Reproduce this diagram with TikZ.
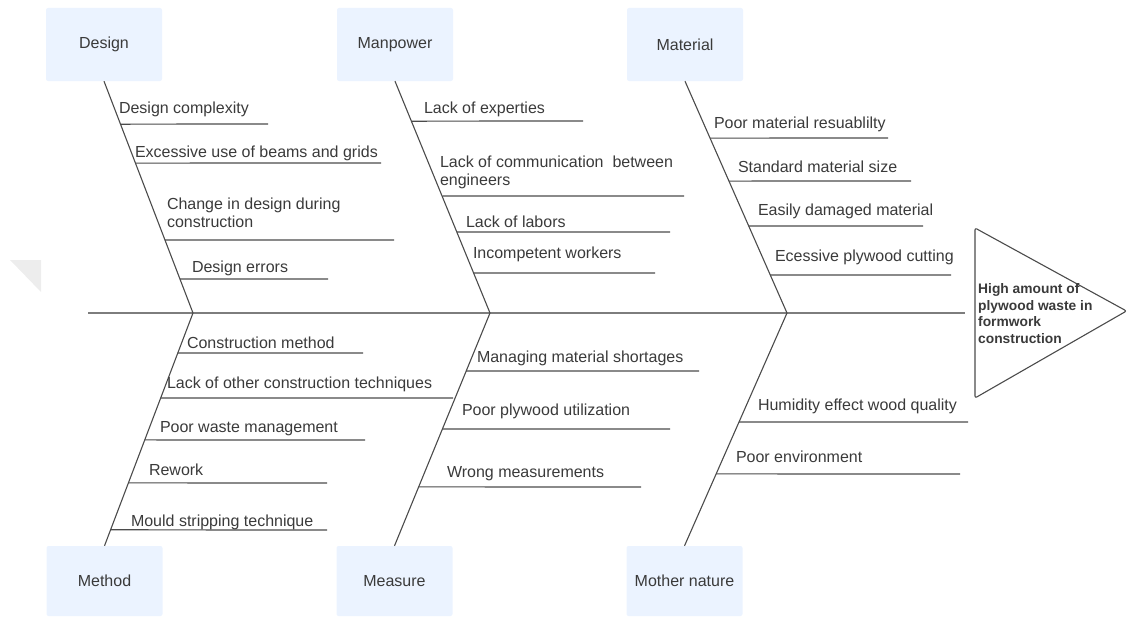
\documentclass[tikz,border=0pt]{standalone}
\usepackage{fontspec}
\setmainfont{Liberation Sans}
\usetikzlibrary{calc}

\definecolor{boxfill}{RGB}{235,243,255}
\definecolor{inktext}{RGB}{58,58,58}
\definecolor{inkline}{RGB}{75,75,75}
\definecolor{spinegray}{RGB}{125,125,125}

\tikzset{
  catbox/.style={fill=boxfill, draw=none, rounded corners=2pt, minimum width=116pt,
    inner sep=0pt, text=inktext, font=\fontsize{16}{18}\selectfont},
  bone/.style={draw=inkline, line width=1.1pt},
  sub/.style={draw=inkline, line width=1.2pt},
  spine/.style={draw=spinegray, line width=2pt},
  lbl/.style={anchor=base west, inner sep=0pt, outer sep=0pt, align=left,
    text=inktext, font=\fontsize{16}{18}\selectfont},
  headtext/.style={anchor=base west, inner sep=0pt, align=left, text=inktext,
    font=\fontsize{13.8}{16.5}\selectfont\bfseries},
}

% upper branch: bone runs from the box (y=81) down to its junction (y=313)
% #1 name, #2 box, #3 junction, #4 line y, #5 line end x, #6 text x,
% #7 baseline of the last text line, #8 text
\newcommand{\upcause}[8]{%
  \coordinate (#1s) at ($(#2.south)!1*(#4-81)/232!(#3)$);
  \coordinate (#1e) at (#5,#4);
  \draw[sub] (#1s) -- (#1e);
  \node[lbl] (#1) at (#6,#7) {#8};
}
% lower branch: bone runs from the junction (y=313) down to the box (y=546)
\newcommand{\lowcause}[8]{%
  \coordinate (#1s) at ($(#3)!1*(#4-313)/233!(#2.north)$);
  \coordinate (#1e) at (#5,#4);
  \draw[sub] (#1s) -- (#1e);
  \node[lbl] (#1) at (#6,#7) {#8};
}

\begin{document}
\begin{tikzpicture}[x=1pt,y=-1pt]
\useasboundingbox (0,0) rectangle (1127,626);

% faint corner mark on the left edge
\fill[black!7] (10,260) -- (41,260) -- (41,292) -- cycle;

% category boxes
\node[catbox, minimum height=73pt] (design)   at (104,44.5) {Design};
\node[catbox, minimum height=73pt] (manpower) at (395,44.5) {Manpower};
\node[catbox, minimum height=73pt] (material) at (685,44.5) {Material};
\node[catbox, minimum height=70pt] (method)   at (104.5,581) {Method};
\node[catbox, minimum height=70pt] (measure)  at (394.5,581) {Measure};
\node[catbox, minimum height=70pt] (nature)   at (684.5,581) {Mother nature};

% spine and junctions
\coordinate (tail) at (88,313);
\coordinate (j1) at (193,313);
\coordinate (j2) at (490,313);
\coordinate (j3) at (787,313);
\coordinate (head) at (965,313);
\draw[spine] (tail) -- (head);

% main bones
\draw[bone] (design.south) -- (j1) -- (method.north);
\draw[bone] (manpower.south) -- (j2) -- (measure.north);
\draw[bone] (material.south) -- (j3) -- (nature.north);

% effect
\coordinate (t1) at (975,228);
\coordinate (t2) at (1126.5,311);
\coordinate (t3) at (975,398);
\draw[draw=inkline, line width=1.1pt, rounded corners=2pt] (t1) -- (t2) -- (t3) -- cycle;
\node[headtext] (effect) at (978,343) {High amount of\\plywood waste in\\formwork\\construction};

% Design
\upcause{d1}{design}{j1}{124}{268}{119}{113}{Design complexity}
\upcause{d2}{design}{j1}{163}{381}{135}{157}{Excessive use of beams and grids}
\upcause{d3}{design}{j1}{240}{394}{167}{227}{Change in design during\\construction}
\upcause{d4}{design}{j1}{279}{328}{192}{272}{Design errors}

% Manpower
\upcause{p1}{manpower}{j2}{121}{583}{424}{113}{Lack of experties}
\upcause{p2}{manpower}{j2}{196}{684}{440}{185}{Lack of communication \ between\\engineers}
\upcause{p3}{manpower}{j2}{232}{670}{466}{227}{Lack of labors}
\upcause{p4}{manpower}{j2}{273}{655}{473}{258}{Incompetent workers}

% Material
\upcause{m1}{material}{j3}{138}{888}{714}{128}{Poor material resuablilty}
\upcause{m2}{material}{j3}{181}{911}{738}{172}{Standard material size}
\upcause{m3}{material}{j3}{226}{923}{758}{215}{Easily damaged material}
\upcause{m4}{material}{j3}{275}{951}{775}{261}{Ecessive plywood cutting}

% Method
\lowcause{h1}{method}{j1}{353}{363}{187}{348}{Construction method}
\lowcause{h2}{method}{j1}{398}{453}{167}{388}{Lack of other construction techniques}
\lowcause{h3}{method}{j1}{440}{365}{160}{432}{Poor waste management}
\lowcause{h4}{method}{j1}{483}{327}{149}{475}{Rework}
\lowcause{h5}{method}{j1}{530}{327}{131}{526}{Mould stripping technique}

% Measure
\lowcause{s1}{measure}{j2}{371}{699}{477}{362}{Managing material shortages}
\lowcause{s2}{measure}{j2}{429}{670}{462}{415}{Poor plywood utilization}
\lowcause{s3}{measure}{j2}{487}{641}{447}{477}{Wrong measurements}

% Mother nature
\lowcause{n1}{nature}{j3}{422}{968}{758}{410}{Humidity effect wood quality}
\lowcause{n2}{nature}{j3}{474}{960}{736}{462}{Poor environment}
\end{tikzpicture}
\end{document}
